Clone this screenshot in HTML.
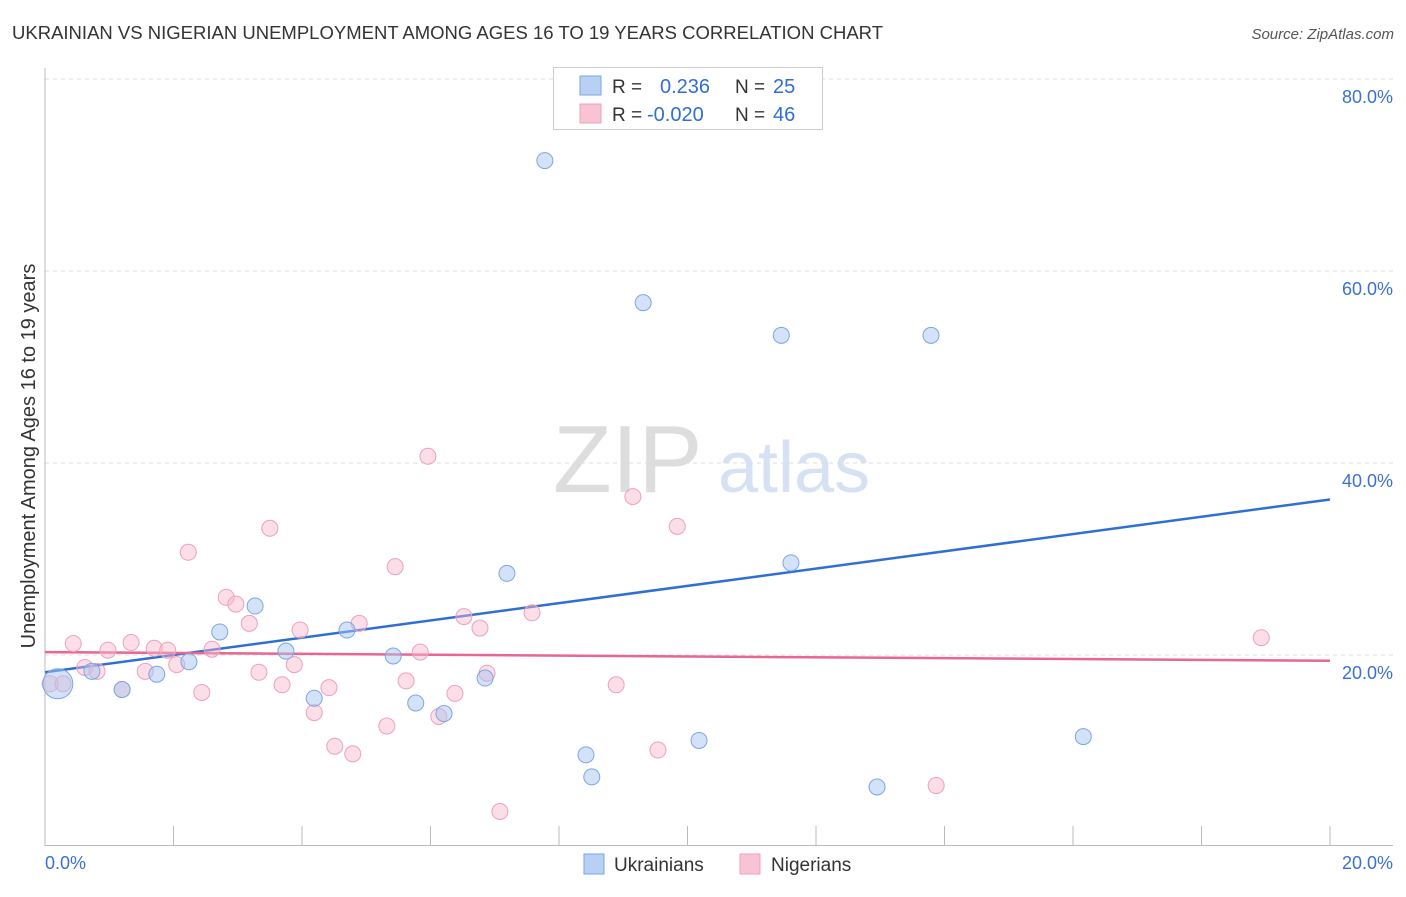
<!DOCTYPE html>
<html><head><meta charset="utf-8"><style>
body{margin:0;background:#fff;font-family:"Liberation Sans",sans-serif}
svg text{font-family:"Liberation Sans",sans-serif}
</style></head><body>
<svg width="1406" height="892" viewBox="0 0 1406 892">
<text x="12" y="39" font-size="18.5" fill="#333" textLength="871">UKRAINIAN VS NIGERIAN UNEMPLOYMENT AMONG AGES 16 TO 19 YEARS CORRELATION CHART</text>
<text x="1394" y="39" font-size="15" fill="#555" font-style="italic" text-anchor="end">Source: ZipAtlas.com</text>
<g>
<text x="553" y="492" font-size="96" fill="#ddd" font-family="Liberation Serif,serif">ZIP</text>
<text x="718" y="492" font-size="72" fill="#d6e2f4">atlas</text>
</g>
<g id="grid"></g>
<g id="axes"></g>
<g id="trend"></g>
<g id="points"></g>
<g>
<rect x="553.5" y="67.5" width="269" height="62" fill="#fff" stroke="#ccc"/>
<rect x="580" y="76" width="21" height="19" fill="#b8d0f4" stroke="#7aa6e6"/>
<rect x="580" y="104" width="21" height="19" fill="#f8c4d4" stroke="#eea0ba"/>
<text x="612" y="93" font-size="19" fill="#333">R = </text><text x="660" y="93" font-size="20" fill="#2f6fd4">0.236</text>
<text x="735" y="93" font-size="19" fill="#333">N = </text><text x="773" y="93" font-size="20" fill="#2f6fd4">25</text>
<text x="612" y="121" font-size="19" fill="#333">R = </text><text x="647" y="121" font-size="20" fill="#2f6fd4">-0.020</text>
<text x="735" y="121" font-size="19" fill="#333">N = </text><text x="773" y="121" font-size="20" fill="#2f6fd4">46</text>
</g>
<g>
<rect x="584" y="854" width="20" height="20" fill="#b8d0f4" stroke="#7aa6e6"/>
<text x="614" y="871" font-size="19" fill="#333">Ukrainians</text>
<rect x="740" y="854" width="20" height="20" fill="#f8c4d4" stroke="#eea0ba"/>
<text x="771" y="871" font-size="19" fill="#333">Nigerians</text>
</g>
</svg>
<script>
const xTicks=[0,2,4,6,8,10,12,14,16,18,20];
const yTicks=[20,40,60,80];
const ukrX=[0.2,0.73,1.2,1.74,2.24,2.72,3.27,3.75,4.19,4.7,5.42,5.77,6.21,6.85,7.19,7.78,8.42,8.51,9.31,10.18,11.46,11.61,12.95,13.79,16.16];
const ukrY=[17.0,18.3,16.4,18.0,19.3,22.4,25.1,20.4,15.5,22.6,19.9,15.0,13.9,17.6,28.5,71.5,9.6,7.3,56.7,11.1,53.3,29.6,6.25,53.3,11.5];
const nigX=[0.08,0.28,0.44,0.62,0.81,0.98,1.2,1.34,1.56,1.7,1.91,2.05,2.23,2.44,2.6,2.82,2.97,3.18,3.33,3.5,3.69,3.88,3.97,4.19,4.42,4.51,4.79,4.89,5.32,5.45,5.62,5.84,5.96,6.13,6.38,6.52,6.77,6.88,7.08,7.58,8.89,9.15,9.54,9.84,13.87,18.93];
const nigY=[17.0,17.0,21.2,18.7,18.3,20.5,16.4,21.3,18.3,20.7,20.5,19.0,30.7,16.1,20.6,26.0,25.3,23.3,18.2,33.2,16.9,19.0,22.6,14.0,16.6,10.5,9.7,23.3,12.6,29.2,17.3,20.3,40.7,13.6,16.0,24.0,22.8,18.1,3.7,24.4,16.9,36.5,10.1,33.4,6.4,21.8];
const ukrTrend=[18.2,36.2];
const nigTrend=[20.3,19.4];
const X=v=>45+v/20*1285, Y=v=>847-v*9.6;
const NS="http://www.w3.org/2000/svg";
function mk(t,a,p){const e=document.createElementNS(NS,t);for(const k in a)e.setAttribute(k,a[k]);p.appendChild(e);return e;}
const grid=document.getElementById('grid'),axes=document.getElementById('axes');
yTicks.forEach(v=>{
 const l=mk('line',{x1:45,x2:1393,y1:Y(v),y2:Y(v),stroke:'#ddd','stroke-dasharray':'4,4'},grid);
 
 
 const t=mk('text',{x:1393,y:Y(v)+24,'font-size':18,fill:'#3a70d4','text-anchor':'end'},axes);
 t.textContent=v.toFixed(1)+'%';
 
 
});
const ya=mk('line',{x1:45,x2:45,y1:68,y2:846,stroke:'#bbb'},axes);


const xa=mk('line',{x1:45,x2:1393,y1:845.5,y2:845.5,stroke:'#bbb'},axes);


xTicks.forEach(v=>{
 const l=mk('line',{x1:X(v),x2:X(v),y1:826,y2:846,stroke:'#bbb'},axes);
 
 
});
[[0,'start','0.0%',45],[20,'end','20.0%',1393]].forEach(d=>{
 const t=mk('text',{x:d[3],y:869,'font-size':18,fill:'#3a70d4','text-anchor':d[1]},axes);
 t.textContent=d[2];
 
 
});
const yt=mk('text',{x:0,y:0,'font-size':20,fill:'#333','text-anchor':'middle',transform:'translate(35,456) rotate(-90)'},axes);
yt.textContent='Unemployment Among Ages 16 to 19 years';


const pts=document.getElementById('points');
nigX.forEach((x,i)=>{
 const c=mk('circle',{cx:X(x),cy:Y(nigY[i]),r:8,fill:'rgba(246,182,202,0.45)',stroke:'#eea0ba','stroke-width':1},pts);
 
 
});
ukrX.forEach((x,i)=>{
 const c=mk('circle',{cx:X(x),cy:Y(ukrY[i]),r:i==0?15:8,fill:'rgba(170,198,240,0.5)',stroke:'#7aa6e6','stroke-width':1},pts);
 
 
});
const tr=document.getElementById('trend');
const t1=mk('line',{x1:X(0),x2:X(20),y1:Y(ukrTrend[0]),y2:Y(ukrTrend[1]),stroke:'#2f6fd4','stroke-width':2.5},tr);


const t2=mk('line',{x1:X(0),x2:X(20),y1:Y(nigTrend[0]),y2:Y(nigTrend[1]),stroke:'#e86690','stroke-width':2.5},tr);


</script>
</body></html>
